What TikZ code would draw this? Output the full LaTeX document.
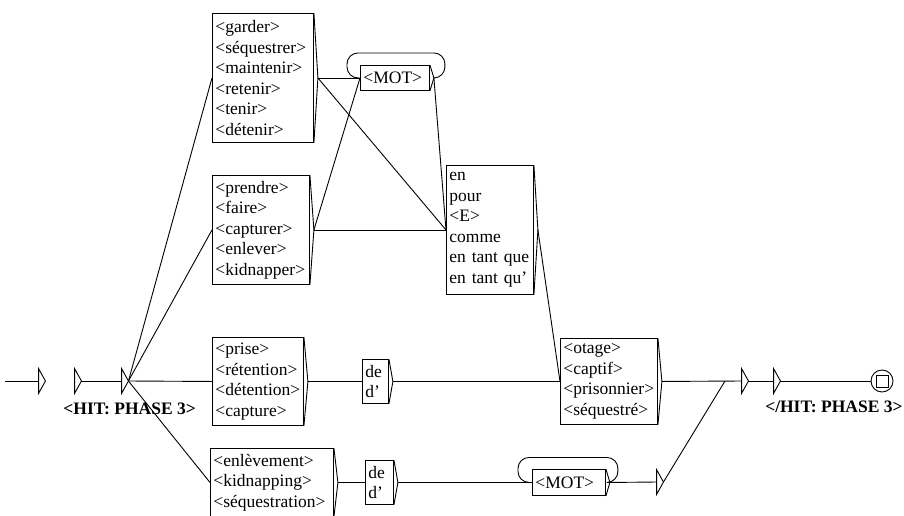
\documentclass[tikz,border=0pt]{standalone}
\usepackage{fontspec}
\setmainfont{Liberation Serif}
\usetikzlibrary{calc}
\begin{document}
\begin{tikzpicture}[x=1pt,y=-1pt, line width=0.9pt,
  box/.style={draw, anchor=north west, align=left, inner xsep=3pt, inner ysep=0pt,
    font=\fontsize{17.5pt}{20.5pt}\selectfont},
  hit/.style={font=\fontsize{17.5pt}{20pt}\selectfont\bfseries, inner sep=0pt},
  epsbox/.style={minimum width=6pt, minimum height=24pt, inner sep=0pt, draw=none},
  final/.style={draw, circle, minimum size=22pt, inner sep=0pt}
]
\useasboundingbox (0,0) rectangle (904,515);

% boxes
\node[box, text width=95pt, minimum height=129pt] (A) at (212,13)
  {<garder>\\<séquestrer>\\<maintenir>\\<retenir>\\<tenir>\\<détenir>};
\node[box, text width=91pt, minimum height=109pt] (B) at (212,175)
  {<prendre>\\<faire>\\<capturer>\\<enlever>\\<kidnapper>};
\node[box, text width=63pt, minimum height=25pt] (M1) at (360,65) {<MOT>};
\node[box, text width=81pt, minimum height=129pt] (C) at (446,165)
  {en\\pour\\<E>\\comme\\en tant que\\en tant qu'};
\node[box, text width=85pt, minimum height=88pt] (P) at (212,337)
  {<prise>\\<rétention>\\<détention>\\<capture>};
\node[box, text width=20pt, minimum height=44pt] (de1) at (362,359) {de\\d'};
\node[box, text width=91pt, minimum height=86pt] (D) at (560,338)
  {<otage>\\<captif>\\<prisonnier>\\<séquestré>};
\node[box, text width=117pt, minimum height=68pt] (En) at (210,448)
  {<enlèvement>\\<kidnapping>\\<séquestration>};
\node[box, text width=22pt, minimum height=44pt] (de2) at (365,460) {de\\d'};
\node[box, text width=67pt, minimum height=26pt] (M2) at (532,469) {<MOT>};

% empty boxes (triangles)
\foreach \n/\x/\y in {t0/42/381, t1/78/381, t2/125/381, t3/660/482, t4/745/381, t5/777/381} {
  \node[epsbox] (\n) at (\x,\y) {};
  \draw (\n.north west) -- (\n.east) -- (\n.south west) -- cycle;
}
\node[final] (F) at (882,381) {};
\draw ($(F)+(-6,-6)$) rectangle ($(F)+(6,6)$);

\coordinate (s0) at (5,381);
\coordinate (J) at (725,381);

% output brackets
\foreach \n in {A,B,M1,C,P,de1,D,En,de2,M2} {
  \draw (\n.north east) -- ($(\n.east)+(4,0)$) -- (\n.south east);
  \coordinate (\n-o) at ($(\n.east)+(4,0)$);
}

% loops
\draw[rounded corners=11pt] (M1.west) -- ++(-13,0) -- ++(0,-25) -- ($(M1.east)+(15,-25)$) -- ++(0,25) -- (M1-o);
\draw[rounded corners=11pt] (M2.west) -- ++(-14,0) -- ++(0,-25) -- ($(M2.east)+(12,-25)$) -- ++(0,25) -- (M2-o);

% transitions
\draw (s0) -- (t0.west);
\draw (t1.east) -- (t2.west);
\foreach \n in {A,B,P,En} \draw (t2.east) -- (\n.west);
\draw (A-o) -- (M1.west);
\draw (A-o) -- (C.west);
\draw (B-o) -- (M1.west);
\draw (B-o) -- (C.west);
\draw (M1-o) -- (C.west);
\draw (C-o) -- (D.west);
\draw (P-o) -- (de1.west);
\draw (de1-o) -- (D.west);
\draw (En-o) -- (de2.west);
\draw (de2-o) -- (M2.west);
\draw (M2-o) -- (t3.west);
\draw (t3.east) -- (J);
\draw (D-o) -- (t4.west);
\draw (t4.east) -- (t5.west);
\draw (t5.east) -- (F.west);

% outputs
\node[hit, anchor=base west] (L1) at (63,414) {<HIT: PHASE 3>};
\node[hit, anchor=base east] (L2) at (903,412) {</HIT: PHASE 3>};
\end{tikzpicture}
\end{document}
